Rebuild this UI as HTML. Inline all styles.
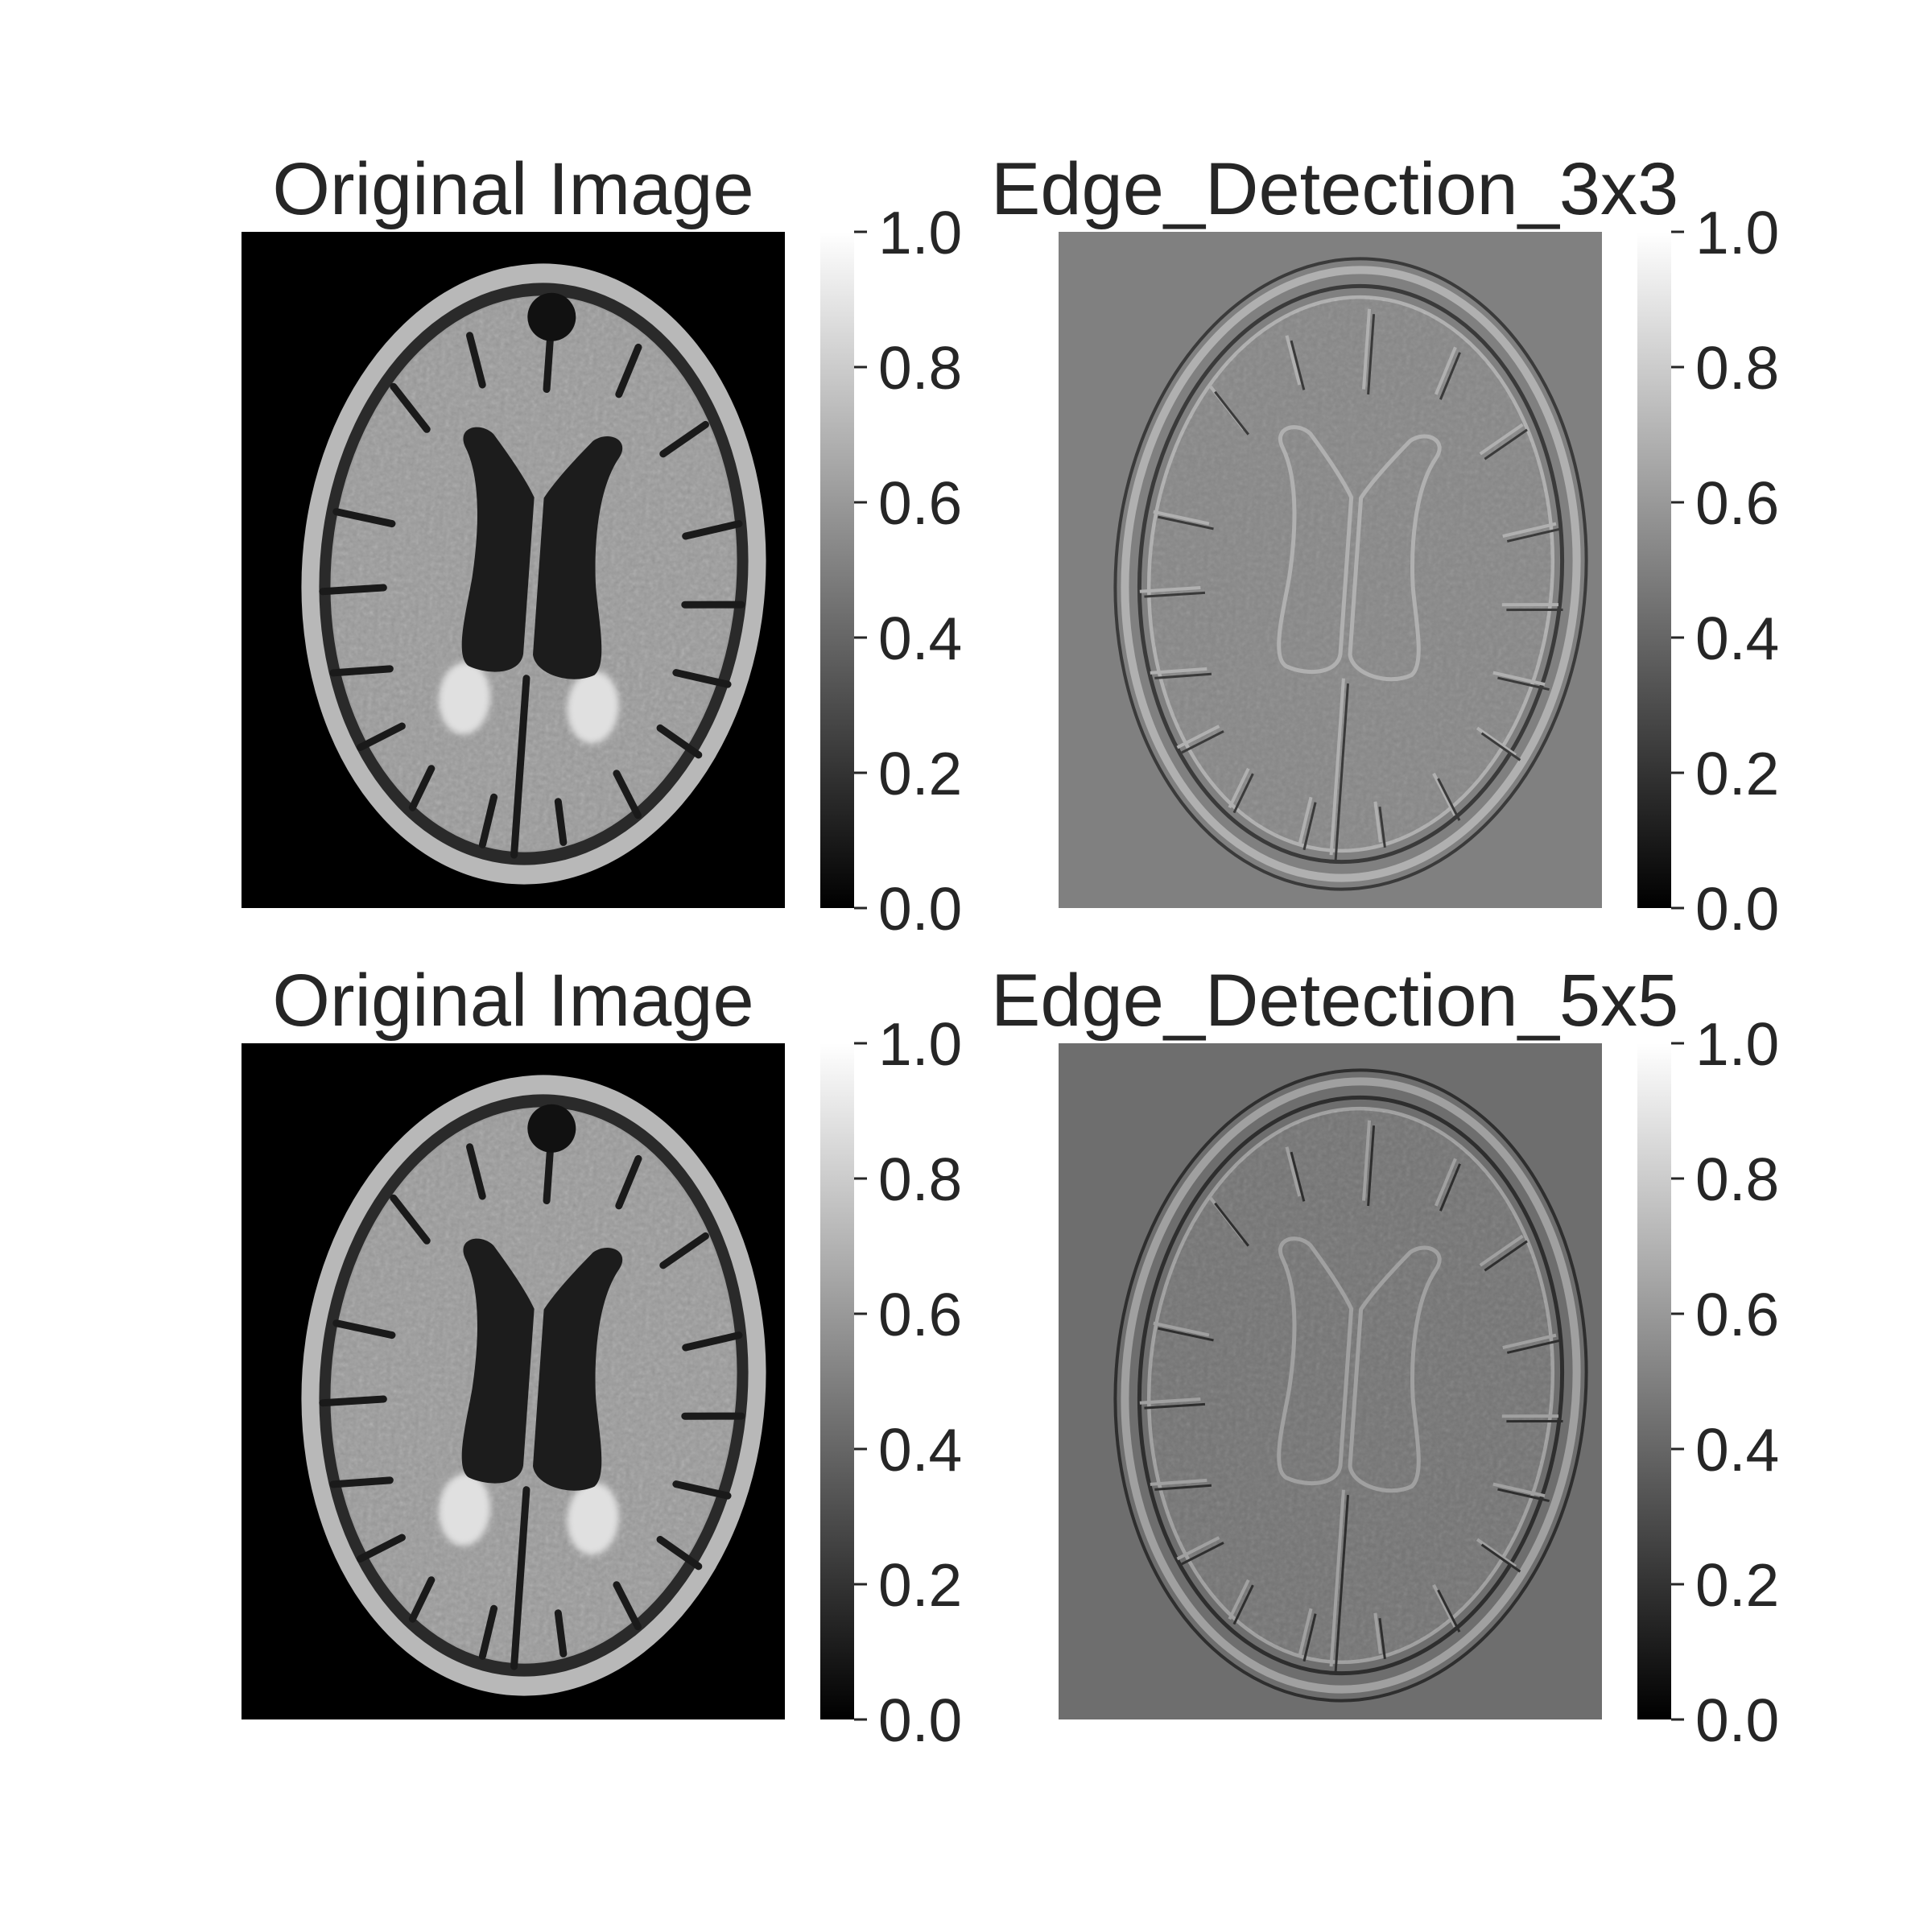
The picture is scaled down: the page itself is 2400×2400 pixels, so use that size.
<!DOCTYPE html>
<html><head><meta charset="utf-8"><style>
html,body{margin:0;padding:0;background:#fff;}
svg{display:block;font-family:"Liberation Sans",Arial,sans-serif;}
</style></head><body>
<svg id="fig" width="2400" height="2400" viewBox="0 0 2400 2400" xmlns="http://www.w3.org/2000/svg">
<defs>
<linearGradient id="cmap" x1="0" y1="1" x2="0" y2="0">
<stop offset="0" stop-color="#000"/><stop offset="1" stop-color="#fff"/>
</linearGradient>
<filter id="blur2"><feGaussianBlur stdDeviation="4"/></filter>
<filter id="noise" x="0" y="0" width="1" height="1"><feTurbulence type="fractalNoise" baseFrequency="0.18" numOctaves="2" seed="3"/><feColorMatrix type="saturate" values="0"/><feComponentTransfer><feFuncA type="table" tableValues="0 0.35"/></feComponentTransfer></filter>
<clipPath id="headclip"><ellipse cx="0" cy="0" rx="250" ry="344"/></clipPath>
</defs>
</svg>
<script>
const ticks=[0,0.2,0.4,0.6,0.8,1.0];
const tickLabels=["0.0","0.2","0.4","0.6","0.8","1.0"];
const titles=["Original Image","Edge_Detection_3x3","Original Image","Edge_Detection_5x5"];
const panelKinds=["orig","edge3","orig","edge5"];
const svg=document.getElementById('fig');
const NS="http://www.w3.org/2000/svg";
function mk(tag,attrs,parent){const e=document.createElementNS(NS,tag);for(const k in attrs)e.setAttribute(k,attrs[k]);(parent||svg).appendChild(e);return e;}
const panels=[{x:300,y:288},{x:1315,y:288},{x:300,y:1296},{x:1315,y:1296}];
const W=675,H=840;
const ventL="M-95,-150 C-110,-175 -80,-185 -62,-170 C-45,-150 -20,-120 -6,-95 L-6,100 C-8,125 -45,130 -72,120 C-92,110 -80,50 -76,10 C-72,-40 -72,-110 -95,-150 Z";
const ventR="M95,-150 C110,-175 80,-185 62,-170 C45,-150 20,-120 6,-95 L6,100 C11,125 57,135 84,120 C100,105 84,50 78,10 C72,-40 72,-110 95,-150 Z";
const sulci=[[-250,-60,-180,-50],[-260,40,-185,30],[-240,140,-170,130],[-200,230,-150,200],[-130,300,-110,250],[-40,340,-30,280],[60,330,50,280],[150,290,120,240],[220,210,170,180],[250,120,185,110],[260,20,190,25],[250,-80,185,-60],[200,-200,150,-160],[110,-290,90,-230],[-100,-290,-80,-230],[-190,-220,-145,-170],[0,-330,0,-230],[0,130,0,350]];
panels.forEach((p,i)=>{
  const kind=panelKinds[i];
  const g=mk('g',{transform:`translate(${p.x},${p.y})`});
  
  
  const clip=mk('clipPath',{id:'c'+i},g);mk('rect',{x:0,y:0,width:W,height:H},clip);
  const inner=mk('g',{'clip-path':`url(#c${i})`},g);
  const bg=kind==='orig'?'#000':(kind==='edge3'?'#808080':'#6e6e6e');
  mk('rect',{x:0,y:0,width:W,height:H,fill:bg},inner);
  const h=mk('g',{transform:'translate(363,425) rotate(4)'},inner);
  const ng=()=>{const c=mk('g',{'clip-path':'url(#headclip)'},h);mk('rect',{x:-260,y:-360,width:520,height:720,fill:'#000',filter:'url(#noise)'},c);return c;};
  if(kind==='orig'){
    mk('ellipse',{cx:0,cy:0,rx:288,ry:386,fill:'#b8b8b8'},h);
    mk('ellipse',{cx:0,cy:0,rx:266,ry:362,fill:'#2a2a2a'},h);
    mk('ellipse',{cx:0,cy:0,rx:252,ry:346,fill:'#9a9a9a'},h);
    ng();
    sulci.forEach(s=>mk('line',{x1:s[0],y1:s[1],x2:s[2],y2:s[3],stroke:'#1a1a1a','stroke-width':9,'stroke-linecap':'round'},h));
    mk('ellipse',{cx:-75,cy:160,rx:32,ry:45,fill:'#e0e0e0',filter:'url(#blur2)'},h);
    mk('ellipse',{cx:85,cy:160,rx:32,ry:45,fill:'#e0e0e0',filter:'url(#blur2)'},h);
    mk('circle',{cx:0,cy:-320,r:30,fill:'#111'},h);
    mk('path',{d:ventL,fill:'#1c1c1c'},h);
    mk('path',{d:ventR,fill:'#1c1c1c'},h);
  } else {
    const light=kind==='edge3'?'#b0b0b0':'#a0a0a0', dark=kind==='edge3'?'#3a3a3a':'#2e2e2e', mid=kind==='edge3'?'#878787':'#747474';
    mk('ellipse',{cx:0,cy:0,rx:292,ry:392,fill:'none',stroke:dark,'stroke-width':4},h);
    mk('ellipse',{cx:0,cy:0,rx:280,ry:378,fill:'none',stroke:light,'stroke-width':10},h);
    mk('ellipse',{cx:0,cy:0,rx:262,ry:358,fill:'none',stroke:dark,'stroke-width':5},h);
    mk('ellipse',{cx:0,cy:0,rx:250,ry:344,fill:'none',stroke:light,'stroke-width':5},h);
    mk('ellipse',{cx:0,cy:0,rx:248,ry:342,fill:mid},h);
    ng().setAttribute('opacity','0.6');
    sulci.forEach(s=>{mk('line',{x1:s[0],y1:s[1],x2:s[2],y2:s[3],stroke:light,'stroke-width':4},h);mk('line',{x1:s[0]+6,y1:s[1]+6,x2:s[2]+6,y2:s[3]+6,stroke:dark,'stroke-width':3},h);});
    mk('path',{d:ventL,fill:'none',stroke:light,'stroke-width':5},h);
    mk('path',{d:ventR,fill:'none',stroke:light,'stroke-width':5},h);
  }
  const t=i%2===0?mk('text',{x:p.x+W/2,y:p.y-22,'text-anchor':'middle','font-size':92,fill:'#262626'}):mk('text',{x:1231,y:p.y-22,'text-anchor':'start','font-size':92,fill:'#262626'});
  t.textContent=titles[i];
  
  
  const cx=p.x+719, cw=42;
  const cb=mk('g',{});
  
  
  mk('rect',{x:cx,y:p.y,width:cw,height:H,fill:'url(#cmap)'},cb);
  ticks.forEach((v,k)=>{
    const y=p.y+H-v*H;
    const tk=mk('line',{x1:cx+cw,y1:y,x2:cx+cw+16,y2:y,stroke:'#262626','stroke-width':3},cb);
    
    
    const lb=mk('text',{x:cx+cw+30,y:y+27,'font-size':75,fill:'#262626'},cb);
    lb.textContent=tickLabels[k];
    
    
  });
});
</script>
</body></html>
